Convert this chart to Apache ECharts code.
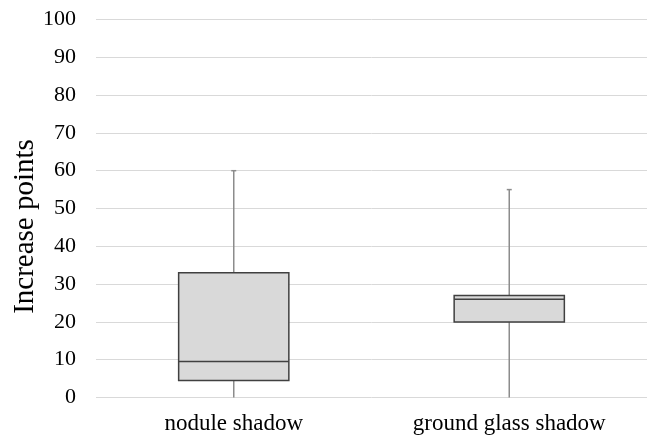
<!DOCTYPE html>
<html>
<head>
<meta charset="utf-8">
<script src="https://cdn.jsdelivr.net/npm/echarts@6/dist/echarts.min.js"></script>
<style>
html,body{margin:0;padding:0;background:#fff;}
#chart{width:652px;height:438px;}
</style>
</head>
<body>
<div id="chart"></div>
<script>
const categories = ['nodule shadow', 'ground glass shadow'];
const minValues = [0, 0];
const q1Values = [4.5, 20];
const medianValues = [9.5, 26];
const q3Values = [33, 27];
const maxValues = [60, 55];
const yTicks = { min: 0, max: 100, interval: 10 };
const yAxisName = 'Increase points';

const boxData = categories.map((c, i) => [i, minValues[i], q1Values[i], medianValues[i], q3Values[i], maxValues[i]]);

const chart = echarts.init(document.getElementById('chart'), null, { renderer: 'canvas' });
const font = '"Liberation Serif", "Times New Roman", serif';

function renderItem(params, api) {
  const x = api.value(0);
  const pMin = api.coord([x, api.value(1)]);
  const pQ1 = api.coord([x, api.value(2)]);
  const pMed = api.coord([x, api.value(3)]);
  const pQ3 = api.coord([x, api.value(4)]);
  const pMax = api.coord([x, api.value(5)]);
  const band = api.size([1, 0])[0];
  const half = band * 0.2;
  const cx = pQ1[0];
  const capHalf = 2.5;
  const whisker = { stroke: '#8c8c8c', lineWidth: 1.5 };
  const dark = { stroke: '#404040', lineWidth: 1.5 };
  return {
    type: 'group',
    children: [
      { type: 'line', shape: { x1: cx, y1: pQ3[1], x2: cx, y2: pMax[1] }, style: whisker },
      { type: 'line', shape: { x1: cx, y1: pQ1[1], x2: cx, y2: pMin[1] }, style: whisker },
      { type: 'line', shape: { x1: cx - capHalf, y1: pMax[1], x2: cx + capHalf, y2: pMax[1] }, style: whisker },
      { type: 'rect', shape: { x: cx - half, y: pQ3[1], width: half * 2, height: pQ1[1] - pQ3[1] },
        style: { fill: '#d9d9d9', stroke: '#404040', lineWidth: 1.5 } },
      { type: 'line', shape: { x1: cx - half, y1: pMed[1], x2: cx + half, y2: pMed[1] }, style: dark }
    ]
  };
}

chart.setOption({
  animation: false,
  backgroundColor: '#ffffff',
  grid: { left: 96, right: 5, top: 19.5, bottom: 40.5, containLabel: false, outerBoundsMode: 'none' },
  xAxis: {
    type: 'category',
    data: categories,
    axisLine: { show: false },
    axisTick: { show: false },
    axisLabel: { color: '#000', fontFamily: font, fontSize: 23, margin: 15 },
    splitLine: { show: false }
  },
  yAxis: {
    type: 'value',
    min: yTicks.min,
    max: yTicks.max,
    interval: yTicks.interval,
    name: yAxisName,
    nameLocation: 'middle',
    nameGap: 56,
    nameMoveOverlap: false,
    nameTextStyle: { color: '#000', fontFamily: font, fontSize: 29, padding: [0, 36, 0, 0] },
    axisLine: { show: false },
    axisTick: { show: false },
    axisLabel: { color: '#000', fontFamily: font, fontSize: 22, margin: 20 },
    splitLine: { lineStyle: { color: '#d9d9d9', width: 1 } }
  },
  series: [{
    type: 'custom',
    renderItem: renderItem,
    encode: { x: 0, y: [1, 2, 3, 4, 5] },
    data: boxData
  }]
});
</script>
</body>
</html>
